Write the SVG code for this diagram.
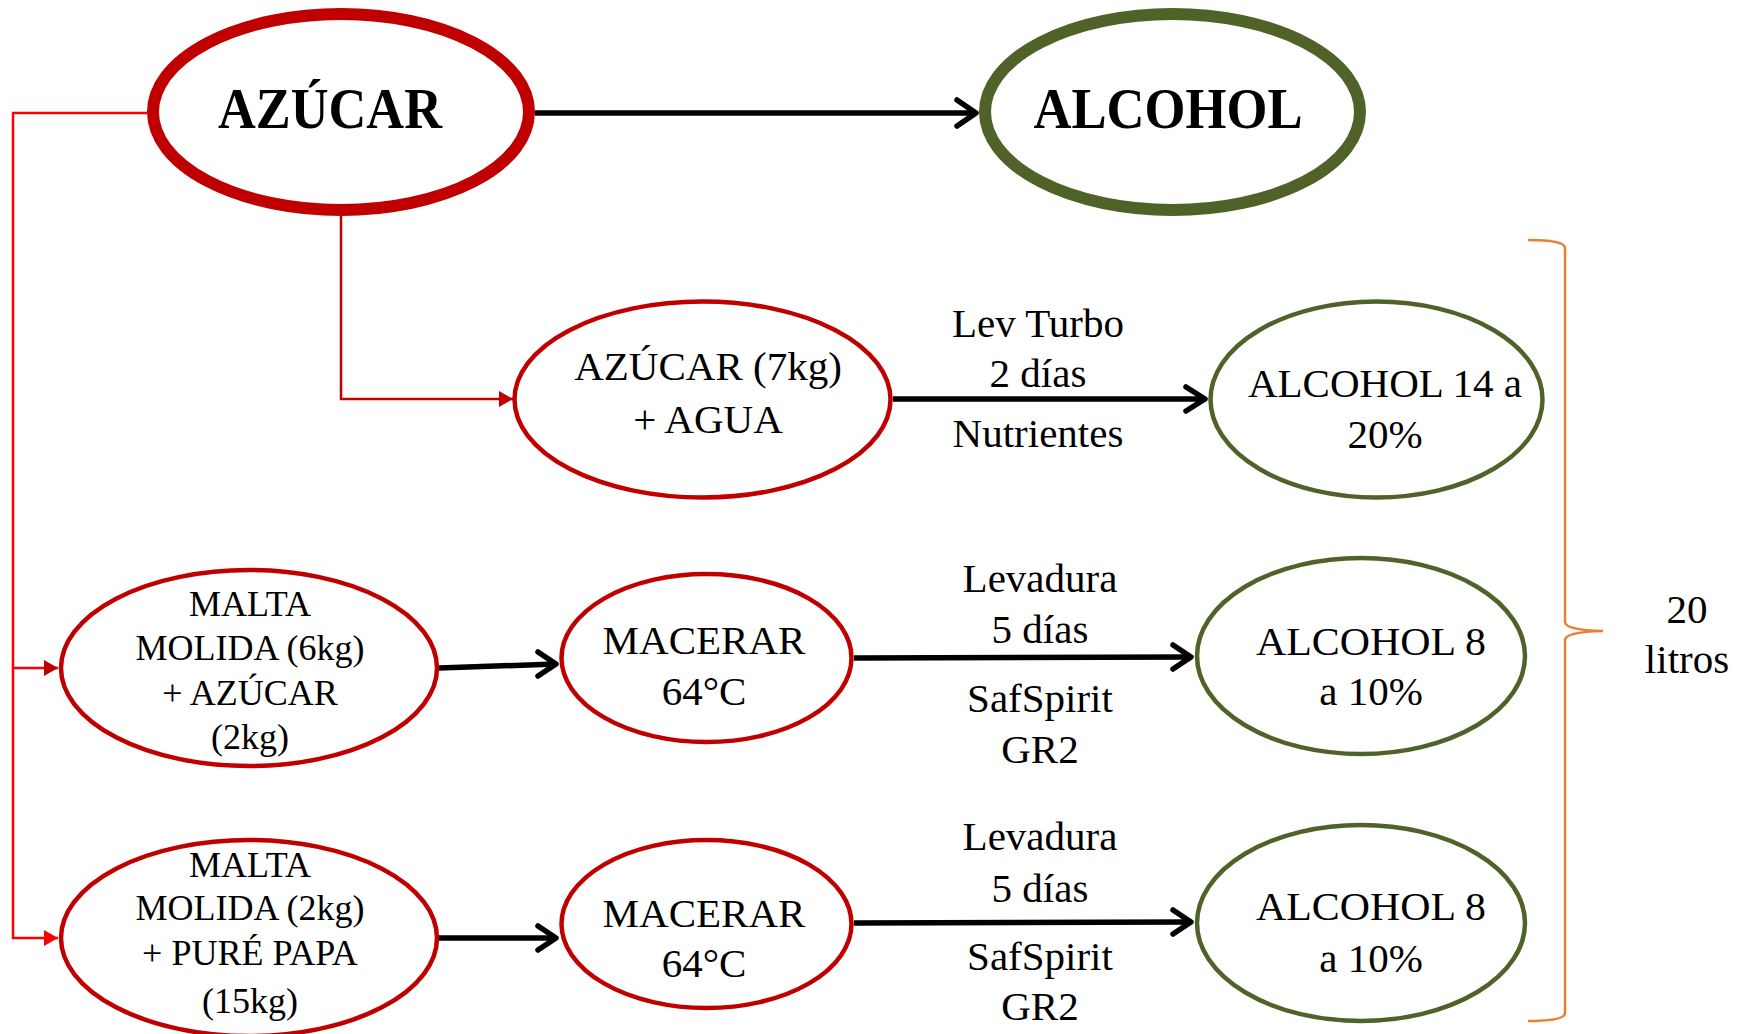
<svg xmlns="http://www.w3.org/2000/svg" width="1741" height="1034" viewBox="0 0 1741 1034">
<style>
text{font-family:"Liberation Serif","Times New Roman",serif;fill:#000;text-anchor:middle}
.big{font-size:56px;font-weight:bold}
.t{font-size:41px}
.m{font-size:36px}
.rb{fill:#fff;stroke:#C00000;stroke-width:12}
.gb{fill:#fff;stroke:#4F6228;stroke-width:12}
.rs{fill:#fff;stroke:#C00000;stroke-width:4.5}
.gs{fill:#fff;stroke:#4F6228;stroke-width:4.5}
.blk{stroke:#000;stroke-width:5.5;fill:none}
.chev{stroke:#000;stroke-width:5.5;fill:none;stroke-linecap:round;stroke-linejoin:round}
</style>
<defs>
<marker id="ra" markerWidth="14" markerHeight="16" refX="14" refY="8" orient="auto" markerUnits="userSpaceOnUse"><path d="M0,0 L14,8 L0,16 Z" fill="#C00000"/></marker>
<marker id="rb" markerWidth="14" markerHeight="16" refX="14" refY="8" orient="auto" markerUnits="userSpaceOnUse"><path d="M0,0 L14,8 L0,16 Z" fill="#FF0000"/></marker>
</defs>
<g id="connectors">
<path d="M147,113 H13 V668 H58" fill="none" stroke="#FF0000" stroke-width="2.5" marker-end="url(#ra)"/>
<path d="M13,668 V938 H58" fill="none" stroke="#FF0000" stroke-width="2.5" marker-end="url(#rb)"/>
<path d="M341,216 V399 H513" fill="none" stroke="#C00000" stroke-width="2.5" marker-end="url(#ra)"/>
<line class="blk" x1="535" y1="113" x2="976" y2="113"/>
<path class="chev" d="M957,100 L976,113 L957,126"/>
<line class="blk" x1="893" y1="399" x2="1205" y2="399"/>
<path class="chev" d="M1186,387 L1205,399 L1186,411"/>
<line class="blk" x1="439" y1="668" x2="556" y2="664"/>
<path class="chev" d="M538,652 L556,664 L538,676"/>
<line class="blk" x1="439" y1="938" x2="556" y2="938"/>
<path class="chev" d="M538,926 L556,938 L538,950"/>
<line class="blk" x1="854" y1="658" x2="1191" y2="657"/>
<path class="chev" d="M1173,645 L1191,657 L1173,669"/>
<line class="blk" x1="854" y1="923" x2="1191" y2="922"/>
<path class="chev" d="M1173,910 L1191,922 L1173,934"/>
</g>
<g id="azucar"><ellipse class="rb" cx="341" cy="112" rx="188" ry="98"/><text class="big" x="330" y="128" textLength="224" lengthAdjust="spacingAndGlyphs">AZÚCAR</text></g>
<g id="alcohol"><ellipse class="gb" cx="1172.5" cy="112" rx="187.5" ry="98"/><text class="big" x="1168" y="128" textLength="269" lengthAdjust="spacingAndGlyphs">ALCOHOL</text></g>
<g id="azucar7"><ellipse class="rs" cx="702.5" cy="399.5" rx="188" ry="98"/><text class="t" x="708" y="380">AZÚCAR (7kg)</text><text class="t" x="708" y="433">+ AGUA</text></g>
<g id="lbl1"><text class="t" x="1038" y="337">Lev Turbo</text><text class="t" x="1038" y="387">2 días</text><text class="t" x="1038" y="447">Nutrientes</text></g>
<g id="alc14"><ellipse class="gs" cx="1376.5" cy="399.5" rx="166" ry="98"/><text class="t" x="1385" y="397">ALCOHOL 14 a</text><text class="t" x="1385" y="448">20%</text></g>
<g id="malta1"><ellipse class="rs" cx="249" cy="668" rx="188" ry="98"/><text class="m" x="250" y="616">MALTA</text><text class="m" x="250" y="660">MOLIDA (6kg)</text><text class="m" x="250" y="705">+ AZÚCAR</text><text class="m" x="250" y="749">(2kg)</text></g>
<g id="macerar1"><ellipse class="rs" cx="706.5" cy="658" rx="145" ry="84"/><text class="t" x="704" y="654">MACERAR</text><text class="t" x="704" y="705">64°C</text></g>
<g id="lbl2"><text class="t" x="1040" y="592">Levadura</text><text class="t" x="1040" y="643">5 días</text><text class="t" x="1040" y="712">SafSpirit</text><text class="t" x="1040" y="763">GR2</text></g>
<g id="alc8a"><ellipse class="gs" cx="1361" cy="656" rx="164" ry="98"/><text class="t" x="1371" y="655" textLength="230" lengthAdjust="spacingAndGlyphs">ALCOHOL 8</text><text class="t" x="1371" y="705">a 10%</text></g>
<g id="malta2"><ellipse class="rs" cx="249" cy="938" rx="188" ry="98"/><text class="m" x="250" y="877">MALTA</text><text class="m" x="250" y="920">MOLIDA (2kg)</text><text class="m" x="250" y="965">+ PURÉ PAPA</text><text class="m" x="250" y="1013">(15kg)</text></g>
<g id="macerar2"><ellipse class="rs" cx="706.5" cy="924" rx="145" ry="84"/><text class="t" x="704" y="927">MACERAR</text><text class="t" x="704" y="977">64°C</text></g>
<g id="lbl3"><text class="t" x="1040" y="850">Levadura</text><text class="t" x="1040" y="902">5 días</text><text class="t" x="1040" y="970">SafSpirit</text><text class="t" x="1040" y="1020">GR2</text></g>
<g id="alc8b"><ellipse class="gs" cx="1361" cy="923" rx="164" ry="98"/><text class="t" x="1371" y="920" textLength="230" lengthAdjust="spacingAndGlyphs">ALCOHOL 8</text><text class="t" x="1371" y="972">a 10%</text></g>
<g id="brace"><path d="M1528,240 Q1565,240 1565,248 V622 Q1565,630 1603,631 Q1565,632 1565,640 V1013 Q1565,1021 1528,1021" fill="none" stroke="#ED7D31" stroke-width="2.5"/><text class="t" x="1687" y="623">20</text><text class="t" x="1687" y="673">litros</text></g>
</svg>
